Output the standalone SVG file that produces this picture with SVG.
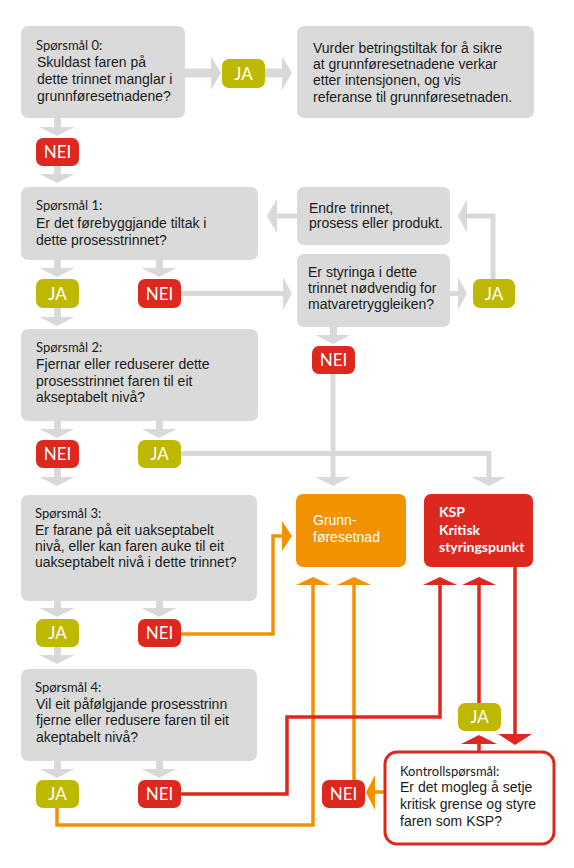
<svg xmlns="http://www.w3.org/2000/svg" width="574" height="868" viewBox="0 0 574 868">
<style>
.box{fill:#dadada}
.t{font-family:"Liberation Sans",Arial,sans-serif;font-size:14px;fill:#1a1a1a}
.lbl{font-family:Lato,"Open Sans",sans-serif;font-size:13px;fill:#1a1a1a}
.ja{fill:#bfb800}
.nei{fill:#dc281e}
.bt{font-family:Lato,"Open Sans",sans-serif;font-size:17px;fill:#fff;text-anchor:middle}
.g{fill:#d9d9d9}
.gl{stroke:#d9d9d9;stroke-width:5;fill:none}
.ol{stroke:#f39200;stroke-width:3.5;fill:none}
.of{fill:#f39200}
.rl{stroke:#dc281e;stroke-width:3.5;fill:none}
.rf{fill:#dc281e}
.wt{font-family:"Liberation Sans",Arial,sans-serif;font-size:14px;fill:#fff}
.kt{font-family:Lato,"Open Sans",sans-serif;font-size:14px;font-weight:bold;fill:#fff}
</style>

<g id="connectors">
  <!-- gray down arrows -->
  <g class="g">
    <rect x="54" y="118" width="7" height="10"/><polygon points="39.5,127 74.5,127 57,136"/>
    <rect x="54" y="166" width="7" height="9"/><polygon points="39.5,174 74.5,174 57,183"/>
    <rect x="54" y="260" width="7" height="9"/><polygon points="39.5,268 74.5,268 57,277"/>
    <rect x="156" y="260" width="7" height="9"/><polygon points="141.5,268 176.5,268 159,277"/>
    <rect x="54" y="308" width="7" height="10"/><polygon points="39.5,317 74.5,317 57,326"/>
    <rect x="54" y="421" width="7" height="9"/><polygon points="39.5,429 74.5,429 57,438"/>
    <rect x="156" y="421" width="7" height="9"/><polygon points="141.5,429 176.5,429 159,438"/>
    <rect x="54" y="468" width="7" height="10"/><polygon points="39.5,477 74.5,477 57,486"/>
    <rect x="54" y="601" width="7" height="8"/><polygon points="39.5,608 74.5,608 57,617"/>
    <rect x="156" y="601" width="7" height="8"/><polygon points="141.5,608 176.5,608 159,617"/>
    <rect x="54" y="647" width="7" height="9"/><polygon points="39.5,655 74.5,655 57,664"/>
    <rect x="54" y="761" width="7" height="9"/><polygon points="39.5,769 74.5,769 57,778"/>
    <rect x="156" y="761" width="7" height="9"/><polygon points="141.5,769 176.5,769 159,778"/>
    <rect x="330" y="327" width="7" height="9"/><polygon points="315.5,335 350.5,335 333,344"/>
    <!-- horizontal -->
    <rect x="185" y="68.5" width="27" height="9"/><polygon points="211,56 211,90 221,73"/>
    <rect x="265" y="68.5" width="18" height="9"/><polygon points="282,56 282,90 292,73"/>
    <polygon points="283,277 283,310 292,293.5"/>
    <polygon points="458,277 458,310 467,293.5"/>
    <polygon points="467,199 467,233 458,216"/>
    <polygon points="277,199 277,233 267,216"/>
    <polygon points="315.5,477 350.5,477 333,486"/>
    <polygon points="471.5,477 506.5,477 489,486"/>
  </g>
  <path class="gl" d="M181,293.5 H284"/>
  <path class="gl" d="M450,293.5 H459"/>
  <path class="gl" d="M493,279 V216 H466"/>
  <path class="gl" d="M297,216 H276"/>
  <path class="gl" d="M333,374 V478"/>
  <path class="gl" d="M181,453.5 H489 V478"/>

  <!-- orange -->
  <path class="ol" d="M181,634 H273 V536 H284"/>
  <polygon class="of" points="282,521 282,551 292,536"/>
  <path class="ol" d="M57,808 V825 H313 V584"/>
  <polygon class="of" points="296,585 330,585 313,577"/>
  <path class="ol" d="M354,780 V584"/>
  <polygon class="of" points="337,585 371,585 354,577"/>
  <path class="ol" d="M384,792 H374"/>
  <polygon class="of" points="375,775 375,810 366,792.5"/>

  <!-- red -->
  <path class="rl" d="M181,794 H287 V717 H440 V584"/>
  <polygon class="rf" points="423,585 457,585 440,577"/>
  <path class="rl" d="M479,703 V584"/>
  <polygon class="rf" points="462,585 496,585 479,577"/>
  <path class="rl" d="M515,567 V735"/>
  <polygon class="rf" points="498,734 532,734 515,745"/>
  <path class="rl" d="M479,751 V743"/>
  <polygon class="rf" points="461,744 497,744 479,735"/>
</g>

<g id="q0">
  <rect class="box" x="21" y="26" width="164" height="92" rx="7"/>
  <text class="lbl" x="36" y="50">Spørsmål 0:</text>
  <text class="t" x="37" y="67">Skuldast faren på</text>
  <text class="t" x="37" y="84">dette trinnet manglar i</text>
  <text class="t" x="37" y="101">grunnføresetnadene?</text>
</g>
<g id="ja0"><rect class="ja" x="222" y="59" width="43" height="29" rx="7"/><text class="bt" x="243.5" y="80">JA</text></g>
<g id="vurder">
  <rect class="box" x="297" y="26" width="237" height="92" rx="7"/>
  <text class="t" x="313" y="53">Vurder betringstiltak for å sikre</text>
  <text class="t" x="313" y="69">at grunnføresetnadene verkar</text>
  <text class="t" x="313" y="85">etter intensjonen, og vis</text>
  <text class="t" x="313" y="102">referanse til grunnføresetnaden.</text>
</g>
<g id="nei0"><rect class="nei" x="36" y="138" width="43" height="28" rx="7"/><text class="bt" x="57.5" y="158">NEI</text></g>

<g id="q1">
  <rect class="box" x="21" y="187" width="237" height="73" rx="7"/>
  <text class="lbl" x="36" y="210">Spørsmål 1:</text>
  <text class="t" x="36" y="228">Er det førebyggjande tiltak i</text>
  <text class="t" x="36" y="245">dette prosesstrinnet?</text>
</g>
<g id="endre">
  <rect class="box" x="297" y="187" width="153" height="58" rx="7"/>
  <text class="t" x="309" y="213">Endre trinnet,</text>
  <text class="t" x="309" y="228">prosess eller produkt.</text>
</g>
<g id="ja1"><rect class="ja" x="36" y="279" width="43" height="29" rx="7"/><text class="bt" x="57.5" y="300">JA</text></g>
<g id="nei1"><rect class="nei" x="138" y="279" width="43" height="29" rx="7"/><text class="bt" x="159.5" y="300">NEI</text></g>
<g id="styringa">
  <rect class="box" x="297" y="254" width="153" height="73" rx="7"/>
  <text class="t" x="308" y="277">Er styringa i dette</text>
  <text class="t" x="308" y="293">trinnet nødvendig for</text>
  <text class="t" x="308" y="309">matvaretryggleiken?</text>
</g>
<g id="ja-styr"><rect class="ja" x="473" y="279" width="42" height="29" rx="7"/><text class="bt" x="494" y="300">JA</text></g>
<g id="nei-styr"><rect class="nei" x="312" y="346" width="43" height="28" rx="7"/><text class="bt" x="333.5" y="366">NEI</text></g>

<g id="q2">
  <rect class="box" x="21" y="329" width="237" height="92" rx="7"/>
  <text class="lbl" x="36" y="352">Spørsmål 2:</text>
  <text class="t" x="36" y="369">Fjernar eller reduserer dette</text>
  <text class="t" x="36" y="386">prosesstrinnet faren til eit</text>
  <text class="t" x="36" y="402">akseptabelt nivå?</text>
</g>
<g id="nei2"><rect class="nei" x="36" y="440" width="43" height="28" rx="7"/><text class="bt" x="57.5" y="460">NEI</text></g>
<g id="ja2"><rect class="ja" x="138" y="440" width="43" height="28" rx="7"/><text class="bt" x="159.5" y="460">JA</text></g>

<g id="q3">
  <rect class="box" x="21" y="495" width="236" height="106" rx="7"/>
  <text class="lbl" x="35" y="518">Spørsmål 3:</text>
  <text class="t" x="35" y="535">Er farane på eit uakseptabelt</text>
  <text class="t" x="35" y="551">nivå, eller kan faren auke til eit</text>
  <text class="t" x="35" y="567">uakseptabelt nivå i dette trinnet?</text>
</g>
<g id="grunn">
  <rect class="of" x="296" y="494" width="110" height="73" rx="7"/>
  <text class="wt" x="313" y="525">Grunn-</text>
  <text class="wt" x="313" y="542">føresetnad</text>
</g>
<g id="ksp">
  <rect class="rf" x="424" y="494" width="109" height="73" rx="7"/>
  <text class="kt" x="439" y="517">KSP</text>
  <text class="kt" x="439" y="535">Kritisk</text>
  <text class="kt" x="439" y="552">styringspunkt</text>
</g>
<g id="ja3"><rect class="ja" x="36" y="619" width="43" height="28" rx="7"/><text class="bt" x="57.5" y="639">JA</text></g>
<g id="nei3"><rect class="nei" x="138" y="619" width="43" height="28" rx="7"/><text class="bt" x="159.5" y="639">NEI</text></g>

<g id="q4">
  <rect class="box" x="21" y="669" width="236" height="92" rx="7"/>
  <text class="lbl" x="35" y="692">Spørsmål 4:</text>
  <text class="t" x="36" y="709">Vil eit påfølgjande prosesstrinn</text>
  <text class="t" x="36" y="725">fjerne eller redusere faren til eit</text>
  <text class="t" x="36" y="742">akeptabelt nivå?</text>
</g>
<g id="ja4"><rect class="ja" x="36" y="780" width="43" height="28" rx="7"/><text class="bt" x="57.5" y="800">JA</text></g>
<g id="nei4"><rect class="nei" x="138" y="780" width="43" height="28" rx="7"/><text class="bt" x="159.5" y="800">NEI</text></g>

<g id="ja-k"><rect class="ja" x="458" y="703" width="43" height="28" rx="7"/><text class="bt" x="479.5" y="723">JA</text></g>
<g id="nei-k"><rect class="nei" x="322" y="780" width="43" height="28" rx="7"/><text class="bt" x="343.5" y="800">NEI</text></g>
<g id="kontroll">
  <rect x="385" y="752" width="169" height="92" rx="12" fill="#fff" stroke="#dc281e" stroke-width="3"/>
  <text class="lbl" x="400" y="776">Kontrollspørsmål:</text>
  <text class="t" x="400" y="792">Er det mogleg å setje</text>
  <text class="t" x="400" y="809">kritisk grense og styre</text>
  <text class="t" x="400" y="826">faren som KSP?</text>
</g>
</svg>
